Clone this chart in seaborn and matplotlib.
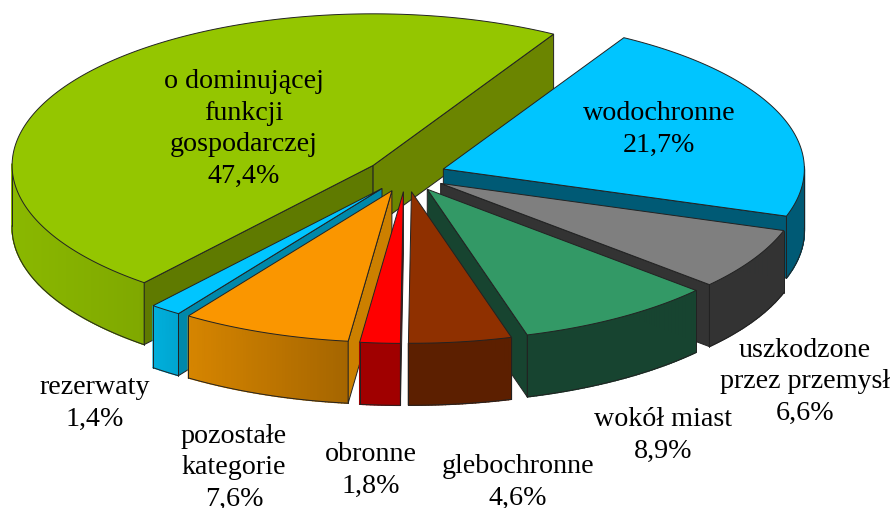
"""3D exploded pie - struktura lasow wg funkcji."""

import numpy as np
import pandas as pd
import matplotlib
matplotlib.use("Agg")
import matplotlib.pyplot as plt
from matplotlib.colors import to_rgb
import seaborn as sns

# values, clockwise from the start angle
categories = ["wodochronne", "uszkodzone\nprzez przemysł", "wokół miast", "glebochronne",
              "obronne", "pozostałe\nkategorie", "rezerwaty",
              "o dominującej\nfunkcji\ngospodarczej"]
shares = [21.7, 6.6, 8.9, 4.6, 1.8, 7.6, 1.4, 47.4]
share_labels = ["21,7%", "6,6%", "8,9%", "4,6%", "1,8%", "7,6%", "1,4%", "47,4%"]

top_colors = ["#00c5ff", "#7f7f7f", "#339966", "#8f3000", "#ff0000", "#fa9600", "#00c5ff", "#94c600"]
start_wall_colors = ["#005a75", "#333333", "#174430", "#5c1f00", "#a00000", "#cc8000", "#0088aa", "#5f7a00"]
end_wall_colors = ["#005a75", "#333333", "#174430", "#5c1f00", "#a00000", "#cc8000", "#0088aa", "#6b8500"]
arc_left = ["#005a75", "#333333", "#174430", "#5c1f00", "#a00000", "#d68500", "#00b0dc", "#8ab800"]
arc_right = ["#005a75", "#333333", "#174430", "#5c1f00", "#a00000", "#a56500", "#00a4d0", "#7fa800"]

# label centres in pixels
label_pos = [(659, 129), (805, 382), (663, 435), (518, 482), (371, 470), (234, 468), (95, 403), (244, 129)]

# pie geometry in pixels
CX, CY = 406, 175
RADIUS = 361
SQUASH = 0.42
DEPTH = 62
EXPLODE = 40
START_ANGLE = 30
EDGE = "#222222"

# slices are painted back to front
PAINT_ORDER = [7, 0, 1, 2, 6, 5, 4, 3]

sns.set_theme(style="white")
plt.rcParams["font.family"] = ["Liberation Serif", "DejaVu Serif"]

df = pd.DataFrame({"category": categories, "share": shares, "label": share_labels})
df["start"] = START_ANGLE + 3.6 * df["share"].shift(fill_value=0).cumsum()
df["end"] = START_ANGLE + 3.6 * df["share"].cumsum()


def project(angle, r, ax_x, ax_y):
    a = np.radians(angle)
    return ax_x + r * np.sin(a), ax_y - r * np.cos(a) * SQUASH


def mix(c1, c2, t):
    return tuple((1 - t) * np.array(to_rgb(c1)) + t * np.array(to_rgb(c2)))


def draw_slice(ax, row, i):
    z = 2 + PAINT_ORDER.index(i)
    mid = np.radians((row["start"] + row["end"]) / 2)
    ox = CX + EXPLODE * np.sin(mid)
    oy = CY - EXPLODE * np.cos(mid) * SQUASH
    angles = np.linspace(row["start"], row["end"], max(int(row["end"] - row["start"]) * 2, 12))
    xs, ys = project(angles, RADIUS, ox, oy)

    # outer wall, only the part facing the viewer
    facing = np.cos(np.radians(angles)) < 0.02
    xf, yf = xs[facing], ys[facing]
    if len(xf) > 1:
        lo, hi = min(xf.min(), xf.max()), max(xf.min(), xf.max())
        for k in range(len(xf) - 1):
            t = ((xf[k] + xf[k + 1]) / 2 - lo) / max(hi - lo, 1)
            col = mix(arc_left[i], arc_right[i], t)
            ax.fill([xf[k], xf[k + 1], xf[k + 1], xf[k]],
                    [yf[k], yf[k + 1], yf[k + 1] + DEPTH, yf[k] + DEPTH],
                    facecolor=col, edgecolor=col, lw=1.0, zorder=z)
        ax.plot(xf, yf + DEPTH, color=EDGE, lw=0.7, zorder=z)
        ax.plot([xf[0], xf[0]], [yf[0], yf[0] + DEPTH], color=EDGE, lw=0.7, zorder=z)
        ax.plot([xf[-1], xf[-1]], [yf[-1], yf[-1] + DEPTH], color=EDGE, lw=0.7, zorder=z)

    # radial walls, skip the ones turned away from the viewer
    walls = []
    if np.sin(np.radians(row["start"])) < 0:
        walls.append((xs[0], ys[0], start_wall_colors[i]))
    if np.sin(np.radians(row["end"])) > 0:
        walls.append((xs[-1], ys[-1], end_wall_colors[i]))
    for x_end, y_end, col in walls:
        ax.fill([ox, x_end, x_end, ox], [oy, y_end, y_end + DEPTH, oy + DEPTH],
                facecolor=col, edgecolor=EDGE, lw=0.7, zorder=z)

    # top face
    ax.fill(np.r_[ox, xs], np.r_[oy, ys], facecolor=top_colors[i],
            edgecolor=EDGE, lw=0.7, zorder=z)


fig = plt.figure(figsize=(8.93, 5.08), dpi=100)
ax = fig.add_axes([0, 0, 1, 1])
ax.set_xlim(0, 893)
ax.set_ylim(508, 0)
ax.axis("off")

for i in PAINT_ORDER:
    draw_slice(ax, df.iloc[i], i)

for (x, y), cat, lab in zip(label_pos, df["category"], df["label"]):
    ax.text(x, y, f"{cat}\n{lab}", ha="center", va="center", fontsize=20.2,
            linespacing=1.36, color="black", zorder=20)

fig.savefig("out.png", dpi=100)
